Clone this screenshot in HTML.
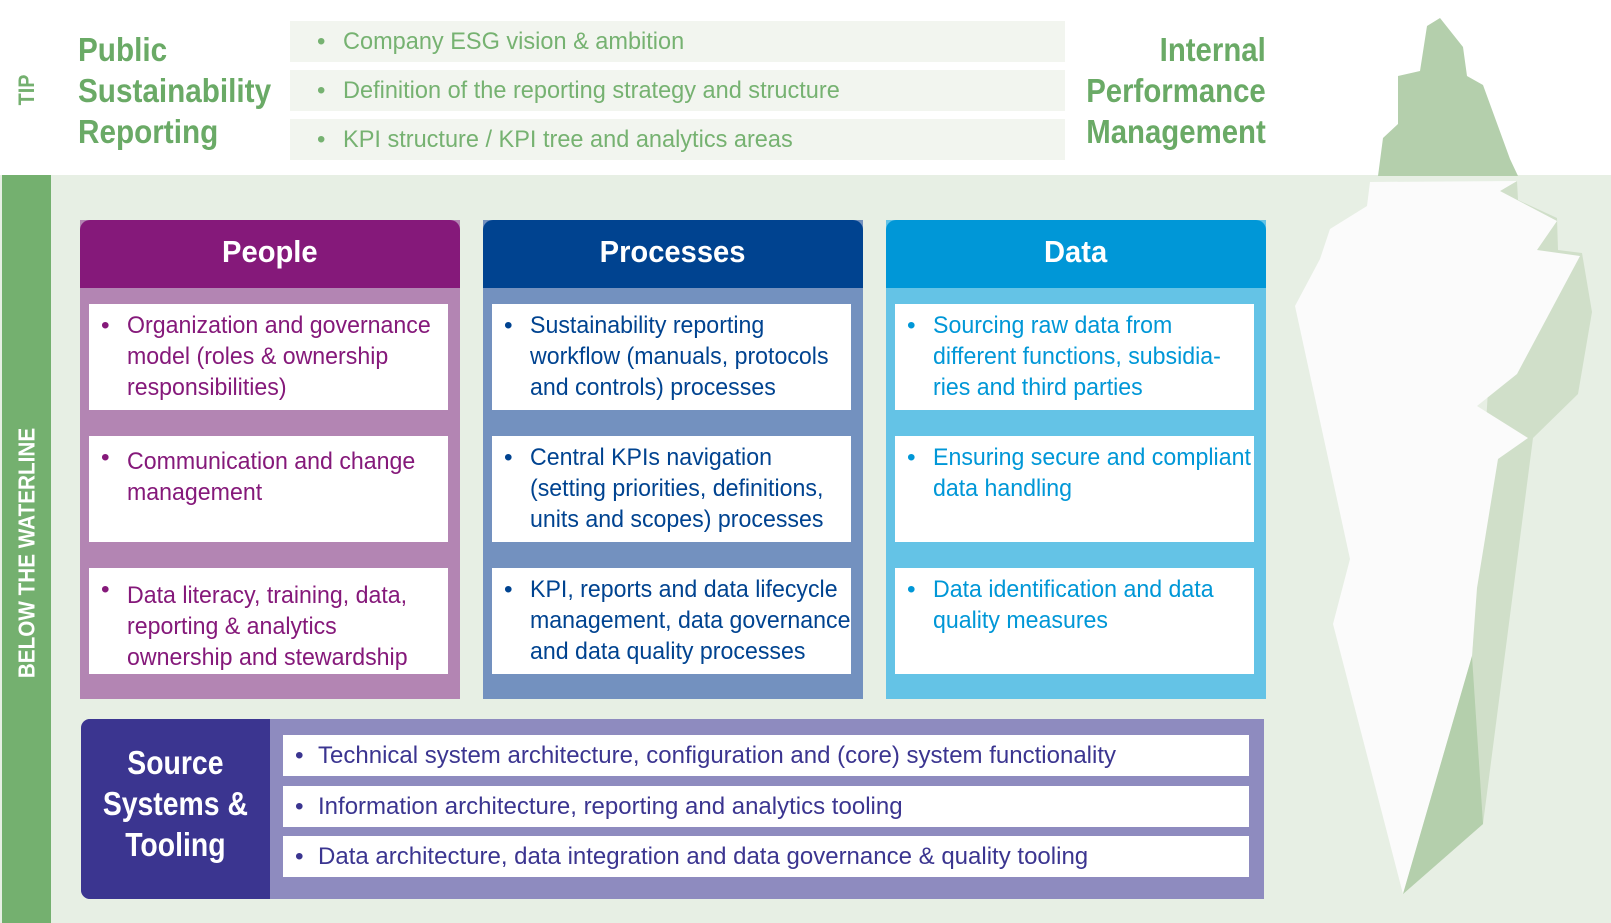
<!DOCTYPE html>
<html><head><meta charset="utf-8"><style>
*{margin:0;padding:0;box-sizing:border-box}
body{width:1611px;height:923px;position:relative;overflow:hidden;background:#fff;font-family:"Liberation Sans",sans-serif}
.a{position:absolute}
.s{display:inline-block;transform:scaleX(.945);transform-origin:0 0;white-space:nowrap}
.t{display:inline-block;transform:scaleX(.98);transform-origin:0 0;white-space:nowrap}
.sr2{display:inline-block;transform:scaleX(.89);transform-origin:100% 0;white-space:nowrap}
.sc{display:inline-block;transform:scaleX(.94);transform-origin:50% 0;white-space:nowrap}
.topbox{position:absolute;left:290px;width:775px;height:41px;background:#f2f5ef;color:#76b271;font-size:24px;line-height:41px;padding-left:27px}
.topbox b{font-weight:normal;margin-right:18px;float:left}
.ttl{position:absolute;color:#6aaa66;font-weight:bold;font-size:33px;line-height:41px}
.col{position:absolute;top:220px;width:380px;height:479px}
.hd{height:68px;border-radius:10px 10px 0 0;color:#fff;font-weight:bold;font-size:31px;text-align:center;line-height:64px}
.bx{position:absolute;left:9px;width:359px;height:106px;background:#fff;font-size:24.5px;line-height:31px;padding:6px 0 0 38px}
.bx:before{content:"•";position:absolute;left:12px;top:6px}
.sr{position:absolute;left:283px;width:966px;height:41px;background:#fff;color:#3b3590;font-size:24.5px;line-height:41px;padding-left:35px}
.sr:before{content:"•";position:absolute;left:12px}
</style></head><body>
<div class="a" style="left:0;top:175px;width:1611px;height:748px;background:#e7efe4"></div>
<div class="a" style="left:2px;top:175px;width:49px;height:748px;background:#74b06f"></div>
<div class="a" style="left:27px;top:90px;transform:translate(-50%,-50%) rotate(-90deg) scaleX(.9);color:#74b06f;font-weight:bold;font-size:22px;white-space:nowrap">TIP</div>
<div class="a" style="left:27px;top:553px;transform:translate(-50%,-50%) rotate(-90deg) scaleX(.9);color:#fff;font-weight:bold;font-size:23px;white-space:nowrap">BELOW THE WATERLINE</div>
<div class="ttl" style="left:78px;top:29px"><span class="s" style="transform:scaleX(.9)">Public<br>Sustainability<br>Reporting</span></div>
<div class="ttl" style="right:345px;top:29px;text-align:right"><span class="sr2">Internal<br>Performance<br>Management</span></div>
<div class="topbox" style="top:21px"><b>•</b><span class="t">Company ESG vision &amp; ambition</span></div>
<div class="topbox" style="top:70px"><b>•</b><span class="t">Definition of the reporting strategy and structure</span></div>
<div class="topbox" style="top:119px"><b>•</b><span class="t">KPI structure / KPI tree and analytics areas</span></div>

<div class="col" style="left:80px;background:#b385b3;color:#85197a">
<div class="hd" style="background:#85197a"><span class="sc">People</span></div>
<div class="bx" style="top:84px"><span class="s">Organization and governance<br>model (roles &amp; ownership<br>responsibilities)</span></div>
<div class="bx" style="top:216px;padding-top:10px"><span class="s">Communication and change<br>management</span></div>
<div class="bx" style="top:348px;padding-top:12px"><span class="s">Data literacy, training, data,<br>reporting &amp; analytics<br>ownership and stewardship</span></div>
</div>
<div class="col" style="left:483px;background:#7391bf;color:#004390">
<div class="hd" style="background:#004390"><span class="sc">Processes</span></div>
<div class="bx" style="top:84px"><span class="s">Sustainability reporting<br>workflow (manuals, protocols<br>and controls) processes</span></div>
<div class="bx" style="top:216px"><span class="s">Central KPIs navigation<br>(setting priorities, definitions,<br>units and scopes) processes</span></div>
<div class="bx" style="top:348px"><span class="s">KPI, reports and data lifecycle<br>management, data governance<br>and data quality processes</span></div>
</div>
<div class="col" style="left:886px;background:#64c3e6;color:#0097d7">
<div class="hd" style="background:#0097d7"><span class="sc">Data</span></div>
<div class="bx" style="top:84px"><span class="s">Sourcing raw data from<br>different functions, subsidia-<br>ries and third parties</span></div>
<div class="bx" style="top:216px"><span class="s">Ensuring secure and compliant<br>data handling</span></div>
<div class="bx" style="top:348px"><span class="s">Data identification and data<br>quality measures</span></div>
</div>

<div class="a" style="left:81px;top:719px;width:1183px;height:180px;background:#8e8bbf;border-radius:9px 0 0 9px"></div>
<div class="a" style="left:81px;top:719px;width:189px;height:180px;background:#3b3590;border-radius:9px 0 0 9px;color:#fff;font-weight:bold;font-size:33px;line-height:41px;text-align:center;padding-top:23px"><span class="sc" style="transform:scaleX(.86)">Source<br>Systems &amp;<br>Tooling</span></div>
<div class="sr" style="top:735px"><span class="t">Technical system architecture, configuration and (core) system functionality</span></div>
<div class="sr" style="top:786px"><span class="t">Information architecture, reporting and analytics tooling</span></div>
<div class="sr" style="top:836px"><span class="t">Data architecture, data integration and data governance &amp; quality tooling</span></div>

<svg class="a" style="left:0;top:0" width="1611" height="923">
<polygon fill="#b4cfac" points="1378,176 1383,138 1398,124 1398,76 1420,71 1427,26 1440,18 1463,47 1467,76 1483,85 1510,159 1518,176"/>
<polygon fill="#d0dfc9" points="1500,191 1517,181 1518,200 1557,218 1558,250 1582,253 1592,312 1578,394 1533,438 1483,824 1403,894 1472,656"/>
<polygon fill="#fbfbfb" points="1370,182 1367,206 1330,229 1320,259 1295,306 1350,559 1333,624 1403,894 1472,656 1477,588 1498,459 1528,438 1477,406 1517,374 1580,256 1537,250 1557,221 1500,191 1517,181"/>
<polygon fill="#b4cfac" points="1472,656 1483,824 1403,894"/>
</svg>
</body></html>
